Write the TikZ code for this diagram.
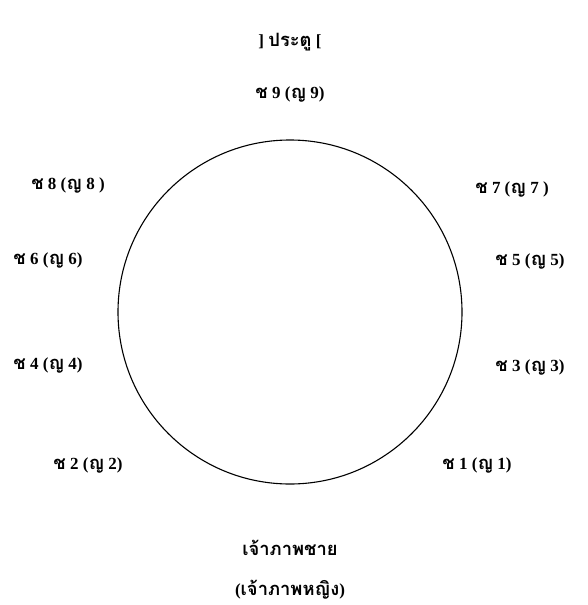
\documentclass[tikz,border=0pt]{standalone}
\usepackage{fontspec}
\newfontfamily\thaifont[Script=Thai,Scale=1.08]{Loma}
\setmainfont{Liberation Serif}
\newcommand{\thtxt}[1]{{\thaifont #1}}
\newcommand{\seatpair}[2]{\thtxt{ช} #1 (\thtxt{ญ} #1#2)}
\begin{document}
\begin{tikzpicture}[x=1pt,y=-1pt,
  lbl/.style={font=\bfseries\fontsize{17}{19}\selectfont, inner sep=1pt}]
\useasboundingbox (0,0) rectangle (587,605);
\node[circle, draw, line width=1.1pt, minimum size=344pt, inner sep=0pt] (c) at (290,312) {};
\node[lbl] (door) at (290,42) {] \thtxt{ประตู} [};
\node[lbl] (s9) at (290,94) {\seatpair{9}{}};
\node[lbl] (s8) at (68,185) {\seatpair{8}{ }};
\node[lbl] (s7) at (512,189) {\seatpair{7}{ }};
\node[lbl] (s6) at (48,260) {\seatpair{6}{}};
\node[lbl] (s5) at (530,261) {\seatpair{5}{}};
\node[lbl] (s4) at (48,365) {\seatpair{4}{}};
\node[lbl] (s3) at (530,367) {\seatpair{3}{}};
\node[lbl] (s2) at (88,465) {\seatpair{2}{}};
\node[lbl] (s1) at (477,465) {\seatpair{1}{}};
\node[lbl] (host) at (290,548) {\thtxt{เจ้าภาพชาย}};
\node[lbl] (hostess) at (290,590) {(\thtxt{เจ้าภาพหญิง})};
\end{tikzpicture}
\end{document}
